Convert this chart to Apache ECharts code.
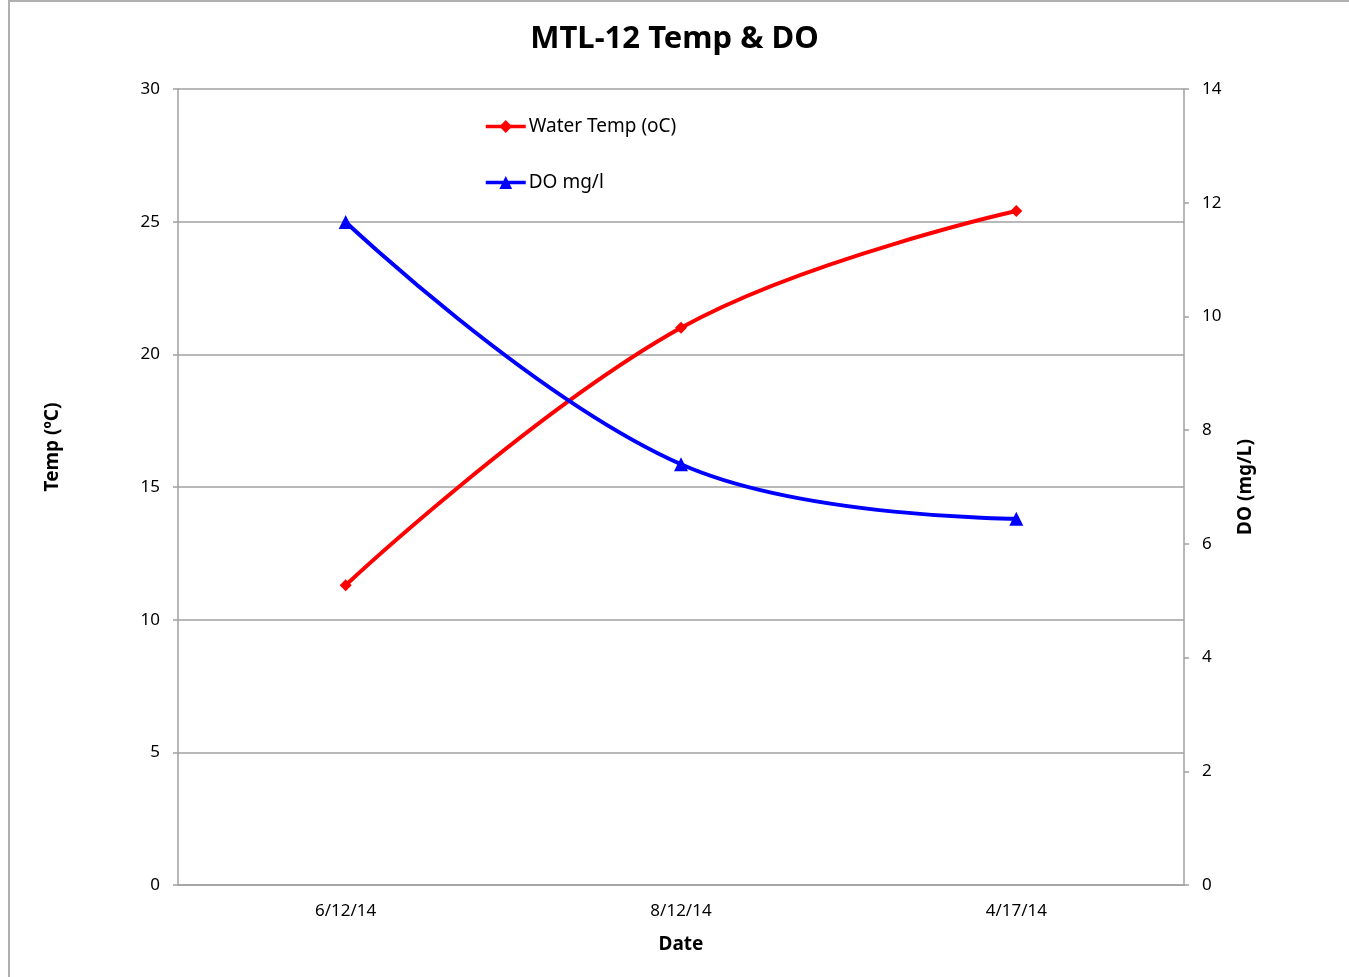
<!DOCTYPE html>
<html>
<head>
<meta charset="utf-8">
<script src="https://cdn.jsdelivr.net/npm/echarts@6/dist/echarts.min.js"></script>
<style>
  html, body { margin: 0; padding: 0; background: #fff; overflow: hidden; }
  #frame { position: absolute; left: 8px; top: 0px; width: 1400px; height: 1000px; border: 2px solid #b0b0b0; box-sizing: border-box; }
  #chart { position: absolute; left: 0; top: 0; width: 1349px; height: 977px; }
</style>
</head>
<body>
<div id="frame"></div>
<div id="chart"></div>
<script>
const dates = ['6/12/14', '8/12/14', '4/17/14']
const waterTemp = [11.3, 21.0, 25.4]
const dissolvedO2 = [11.66, 7.4, 6.44]

const font = 'Noto Sans, Open Sans, sans-serif'
const gray = '#a0a0a0'

const chart = echarts.init(document.getElementById('chart'))
chart.setOption({
  animation: false,
  title: {
    text: 'MTL-12 Temp & DO',
    left: 'center',
    top: 19,
    textStyle: { fontFamily: font, fontSize: 31, fontWeight: 'bold', color: '#000' }
  },
  legend: {
    orient: 'vertical',
    left: 479,
    top: 112,
    itemGap: 37,
    itemWidth: 40,
    itemHeight: 16,
    lineStyle: { width: 3.5 },
    textStyle: { fontFamily: font, fontSize: 19, color: '#000', padding: [0, 0, 0, -2] },
    data: ['Water Temp (oC)', 'DO mg/l']
  },
  grid: { left: 178, right: 165, top: 89, bottom: 92 },
  xAxis: {
    type: 'category',
    data: dates,
    boundaryGap: true,
    name: 'Date',
    nameLocation: 'middle',
    nameGap: 50,
    nameTextStyle: { fontFamily: font, fontSize: 19, fontWeight: 'bold', color: '#000' },
    axisLine: { lineStyle: { color: gray, width: 1.5 } },
    axisTick: { length: 5, lineStyle: { color: gray, width: 1.5 } },
    axisLabel: { fontFamily: font, fontSize: 17, color: '#000', margin: 18 }
  },
  yAxis: [
    {
      type: 'value',
      min: 0, max: 30, interval: 5,
      name: 'Temp (ºC)',
      nameLocation: 'middle',
      nameGap: 116,
      nameRotate: 90,
      nameTextStyle: { fontFamily: font, fontSize: 19, fontWeight: 'bold', color: '#000', padding: [0, 0, 0, 80] },
      axisLine: { show: true, lineStyle: { color: gray, width: 1.5 } },
      axisTick: { show: true, length: 5, lineStyle: { color: gray, width: 1.5 } },
      axisLabel: { fontFamily: font, fontSize: 17, color: '#000', margin: 18 },
      splitLine: { show: true, lineStyle: { color: gray, width: 1.5 } }
    },
    {
      type: 'value',
      min: 0, max: 14, interval: 2,
      position: 'right',
      name: 'DO (mg/L)',
      nameLocation: 'middle',
      nameGap: 52,
      nameRotate: 90,
      nameTextStyle: { fontFamily: font, fontSize: 19, fontWeight: 'bold', color: '#000' },
      axisLine: { show: true, lineStyle: { color: gray, width: 1.5 } },
      axisTick: { show: true, length: 5, lineStyle: { color: gray, width: 1.5 } },
      axisLabel: { fontFamily: font, fontSize: 17, color: '#000', margin: 18 },
      splitLine: { show: false }
    }
  ],
  series: [
    {
      name: 'Water Temp (oC)',
      type: 'line',
      yAxisIndex: 0,
      data: waterTemp,
      smooth: 0.4,
      symbol: 'diamond',
      symbolSize: 12,
      lineStyle: { color: '#ff0000', width: 4 },
      itemStyle: { color: '#ff0000' }
    },
    {
      name: 'DO mg/l',
      type: 'line',
      yAxisIndex: 1,
      data: dissolvedO2,
      smooth: 0.4,
      symbol: 'triangle',
      symbolSize: 14,
      lineStyle: { color: '#0000ff', width: 4 },
      itemStyle: { color: '#0000ff' }
    }
  ]
})
</script>
</body>
</html>
